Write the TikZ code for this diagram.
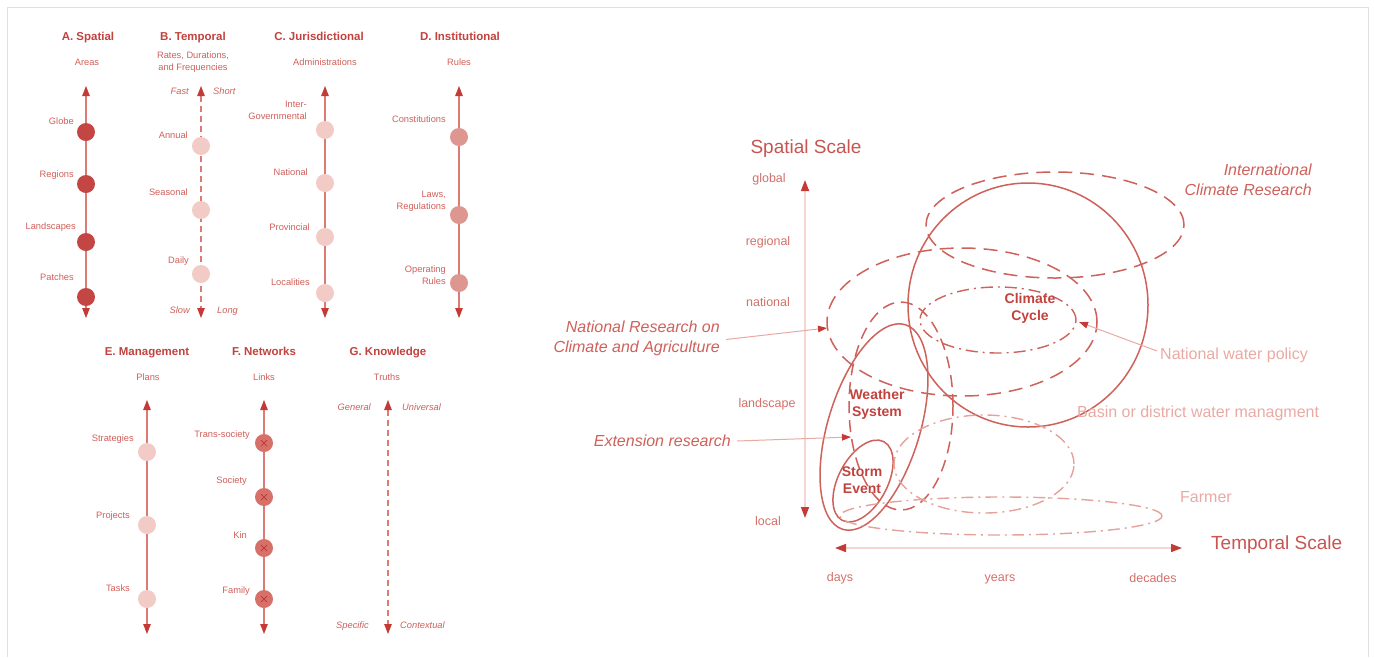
\documentclass[tikz,border=0pt]{standalone}
\usepackage{fontspec}
\setmainfont{Liberation Sans}
\usetikzlibrary{arrows.meta}
\definecolor{tred}{RGB}{194,66,62}
\definecolor{lred}{RGB}{208,96,90}
\definecolor{axl}{RGB}{220,122,116}
\definecolor{tipc}{RGB}{196,58,54}
\definecolor{pinkA}{RGB}{196,70,68}
\definecolor{pinkL}{RGB}{243,203,198}
\definecolor{pinkM}{RGB}{222,150,145}
\definecolor{pinkN}{RGB}{216,112,106}
\definecolor{xdark}{RGB}{186,54,50}
\definecolor{ltxt}{RGB}{234,170,164}
\definecolor{faint}{RGB}{246,214,210}
\definecolor{framec}{RGB}{224,224,224}
\definecolor{ellc}{RGB}{206,98,90}
\definecolor{ellL}{RGB}{230,162,154}
\definecolor{scl}{RGB}{212,112,106}
\begin{document}
\begin{tikzpicture}[x=1pt,y=-1pt,
  ttl/.style={font=\fontsize{11.5}{13}\selectfont\bfseries, text=tred, inner sep=0, text height=8.2pt, text depth=0pt},
  sub/.style={font=\fontsize{9.3}{12}\selectfont, text=lred, inner sep=0, align=center},
  subone/.style={font=\fontsize{9.3}{12}\selectfont, text=lred, inner sep=0, text height=6.7pt, text depth=0pt},
  lbl/.style={font=\fontsize{9.3}{12}\selectfont, text=lred, inner sep=0, anchor=east, text height=6.7pt, text depth=0pt},
  lbltwo/.style={font=\fontsize{9.3}{12}\selectfont, text=lred, inner sep=0, anchor=east, align=right},
  itl/.style={font=\fontsize{9.3}{12}\selectfont\itshape, text=lred, inner sep=0, text height=6.7pt, text depth=0pt},
  axisarrow/.style={draw=axl, line width=1.2pt, {Triangle[length=10pt,width=7.5pt,color=tipc]}-{Triangle[length=10pt,width=7.5pt,color=tipc]}},
  dashaxis/.style={axisarrow, dash pattern=on 6pt off 4pt},
  dotbase/.style={circle, minimum size=18pt, inner sep=0, draw=none},
  dotA/.style={dotbase, fill=pinkA},
  dotL/.style={dotbase, fill=pinkL},
  dotM/.style={dotbase, fill=pinkM},
  dotN/.style={dotbase, fill=pinkN, path picture={
     \draw[xdark, line width=0.7pt]
       ([shift={(-3pt,-3pt)}]path picture bounding box.center) -- ([shift={(3pt,3pt)}]path picture bounding box.center)
       ([shift={(-3pt,3pt)}]path picture bounding box.center) -- ([shift={(3pt,-3pt)}]path picture bounding box.center);}},
  scalearrow/.style={draw=faint, line width=1.6pt, {Triangle[length=11pt,width=8pt,color=tipc]}-{Triangle[length=11pt,width=8pt,color=tipc]}},
  scaletitle/.style={font=\fontsize{19}{22}\selectfont, text=tred!90!white, inner sep=0, text height=13.6pt, text depth=0pt},
  scalelbl/.style={font=\fontsize{12.5}{14}\selectfont, text=scl, inner sep=0, text height=9pt, text depth=0pt},
  bigit/.style={font=\fontsize{16}{20}\selectfont\itshape, text=lred, inner sep=0, align=right},
  bigitone/.style={font=\fontsize{16}{20}\selectfont\itshape, text=lred, inner sep=0, text height=11.5pt, text depth=0pt},
  lighttxt/.style={font=\fontsize{16}{20}\selectfont, text=ltxt, inner sep=0, text height=11.5pt, text depth=0pt},
  elllbl/.style={font=\fontsize{14}{17}\selectfont\bfseries, text=tred, inner sep=0, align=center},
  solidell/.style={draw=ellc, line width=1.5pt},
  dashell/.style={draw=ellc, line width=1.5pt, dash pattern=on 14pt off 8pt},
  dashellb/.style={draw=ellc, line width=1.5pt, dash pattern=on 12pt off 7pt},
  ddell/.style={draw=ellc, line width=1.4pt, dash pattern=on 12pt off 5pt on 2pt off 5pt},
  ddellL/.style={draw=ellL, line width=1.4pt, dash pattern=on 12pt off 5pt on 2pt off 5pt},
  labelarrow/.style={draw=ltxt, line width=1pt, -{Triangle[length=9pt,width=6.5pt,color=tipc]}}
]
\useasboundingbox (0,0) rectangle (1374,657);
\fill[white] (0,0) rectangle (1374,657);
\draw[framec, line width=1pt] (7.5,657) -- (7.5,7.5) -- (1368,7.5) -- (1368,657);

% ---------- A. Spatial
\node[ttl] (At) at (88,36) {A. Spatial};
\node[subone] (As) at (87,62) {Areas};
\coordinate (Atop) at (86,86); \coordinate (Abot) at (86,318);
\draw[axisarrow] (Atop) -- (Abot);
\node[dotA] (A1) at (86,132) {};
\node[dotA] (A2) at (86,184) {};
\node[dotA] (A3) at (86,242) {};
\node[dotA] (A4) at (86,297) {};
\node[lbl] (A1l) at (74,121) {Globe};
\node[lbl] (A2l) at (74,174) {Regions};
\node[lbl] (A3l) at (76,226) {Landscapes};
\node[lbl] (A4l) at (74,277) {Patches};

% ---------- B. Temporal
\node[ttl] (Bt) at (193,36) {B. Temporal};
\node[sub] (Bs) at (193,62.5) {Rates, Durations,\\and Frequencies};
\coordinate (Btop) at (201,86); \coordinate (Bbot) at (201,318);
\draw[dashaxis] (Btop) -- (Bbot);
\node[dotL] (B1) at (201,146) {};
\node[dotL] (B2) at (201,210) {};
\node[dotL] (B3) at (201,274) {};
\node[lbl] (B1l) at (188,135) {Annual};
\node[lbl] (B2l) at (188,192) {Seasonal};
\node[lbl] (B3l) at (189,260) {Daily};
\node[itl, anchor=east] (Bf) at (189,91) {Fast};
\node[itl, anchor=west] (Bsh) at (213,91) {Short};
\node[itl, anchor=east] (Bsl) at (190,310) {Slow};
\node[itl, anchor=west] (Blo) at (217,310) {Long};

% ---------- C. Jurisdictional
\node[ttl] (Ct) at (319,36) {C. Jurisdictional};
\node[subone] (Cs) at (325,62) {Administrations};
\coordinate (Ctop) at (325,86); \coordinate (Cbot) at (325,318);
\draw[axisarrow] (Ctop) -- (Cbot);
\node[dotL] (C1) at (325,130) {};
\node[dotL] (C2) at (325,183) {};
\node[dotL] (C3) at (325,237) {};
\node[dotL] (C4) at (325,293) {};
\node[lbltwo] (C1l) at (307,110.5) {Inter-\\Governmental};
\node[lbl] (C2l) at (308,172) {National};
\node[lbl] (C3l) at (310,227) {Provincial};
\node[lbl] (C4l) at (310,282) {Localities};

% ---------- D. Institutional
\node[ttl] (Dt) at (460,36) {D. Institutional};
\node[subone] (Ds) at (459,62) {Rules};
\coordinate (Dtop) at (459,86); \coordinate (Dbot) at (459,318);
\draw[axisarrow] (Dtop) -- (Dbot);
\node[dotM] (D1) at (459,137) {};
\node[dotM] (D2) at (459,215) {};
\node[dotM] (D3) at (459,283) {};
\node[lbl] (D1l) at (446,119) {Constitutions};
\node[lbltwo] (D2l) at (446,201.5) {Laws,\\Regulations};
\node[lbltwo] (D3l) at (446,275.5) {Operating\\Rules};

% ---------- E. Management
\node[ttl] (Et) at (147,351) {E. Management};
\node[subone] (Es) at (148,377) {Plans};
\coordinate (Etop) at (147,400); \coordinate (Ebot) at (147,634);
\draw[axisarrow] (Etop) -- (Ebot);
\node[dotL] (E1) at (147,452) {};
\node[dotL] (E2) at (147,525) {};
\node[dotL] (E3) at (147,599) {};
\node[lbl] (E1l) at (134,438) {Strategies};
\node[lbl] (E2l) at (130,515) {Projects};
\node[lbl] (E3l) at (130,588) {Tasks};

% ---------- F. Networks
\node[ttl] (Ft) at (264,351) {F. Networks};
\node[subone] (Fs) at (264,377) {Links};
\coordinate (Ftop) at (264,400); \coordinate (Fbot) at (264,634);
\draw[axisarrow] (Ftop) -- (Fbot);
\node[dotN] (F1) at (264,443) {};
\node[dotN] (F2) at (264,497) {};
\node[dotN] (F3) at (264,548) {};
\node[dotN] (F4) at (264,599) {};
\node[lbl] (F1l) at (250,434) {Trans-society};
\node[lbl] (F2l) at (247,480) {Society};
\node[lbl] (F3l) at (247,535) {Kin};
\node[lbl] (F4l) at (250,590) {Family};

% ---------- G. Knowledge
\node[ttl] (Gt) at (388,351) {G. Knowledge};
\node[subone] (Gs) at (387,377) {Truths};
\coordinate (Gtop) at (388,400); \coordinate (Gbot) at (388,634);
\draw[dashaxis] (Gtop) -- (Gbot);
\node[itl, anchor=east] (Gg) at (371,407) {General};
\node[itl, anchor=west] (Gu) at (402,407) {Universal};
\node[itl, anchor=east] (Gsp) at (369,625) {Specific};
\node[itl, anchor=west] (Gc) at (400,625) {Contextual};

% ================= Right panel
\coordinate (Vt) at (805,180); \coordinate (Vb) at (805,518);
\draw[scalearrow] (Vt) -- (Vb);
\coordinate (Hl) at (835,548); \coordinate (Hr) at (1182,548);
\draw[scalearrow] (Hl) -- (Hr);

\node[scaletitle] (SS) at (806,147) {Spatial Scale};
\node[scaletitle, anchor=west] (TS) at (1211,543) {Temporal Scale};
\node[scalelbl] (sg) at (769,177.5) {global};
\node[scalelbl] (sr) at (768,241) {regional};
\node[scalelbl] (sn) at (768,302) {national};
\node[scalelbl] (sl) at (767,403) {landscape};
\node[scalelbl] (sc) at (768,521) {local};
\node[scalelbl] (td) at (840,577) {days};
\node[scalelbl] (ty) at (1000,577) {years};
\node[scalelbl] (tc) at (1153,578) {decades};

% ellipses
\draw[dashell] (1055,225) ellipse [x radius=129pt, y radius=53pt];
\draw[solidell] (1028,305) ellipse [x radius=120pt, y radius=122pt];
\draw[dashell] (962,322) ellipse [x radius=135pt, y radius=74pt];
\draw[ddell] (998,320) ellipse [x radius=78pt, y radius=33pt];
\draw[dashellb] (901,406) ellipse [x radius=52pt, y radius=104pt];
\draw[solidell, rotate around={-17:(874,427)}] (874,427) ellipse [x radius=46pt, y radius=107pt];
\draw[solidell, rotate around={-28:(863,481)}] (863,481) ellipse [x radius=24.5pt, y radius=44.5pt];
\draw[ddellL] (984,464) ellipse [x radius=90pt, y radius=49pt];
\draw[ddellL] (1001,516) ellipse [x radius=161pt, y radius=19pt];

% ellipse labels
\node[elllbl] (CC) at (1030,308.5) {Climate\\Cycle};
\node[elllbl] (WS) at (877,404.5) {Weather\\System};
\node[elllbl] (SE) at (862,480.5) {Storm\\Event};

% outside labels
\node[bigit, anchor=east] (ICR) at (1312,180) {International\\Climate Research};
\node[bigit, anchor=east] (NRCA) at (720,338.5) {National Research on\\Climate and Agriculture};
\node[bigitone, anchor=east] (EXT) at (731,441) {Extension research};
\node[lighttxt, anchor=west] (NWP) at (1160,354) {National water policy};
\node[lighttxt, anchor=west] (BAS) at (1077,412) {Basin or district water managment};
\node[lighttxt, anchor=west] (FAR) at (1180,497) {Farmer};

\coordinate (NRCAtip) at (827,328);
\coordinate (EXTtip) at (851,437);
\coordinate (NWPtip) at (1079,322);
\draw[labelarrow] ([xshift=6pt,yshift=-1pt]NRCA.east) -- (NRCAtip);
\draw[labelarrow] ([xshift=6pt]EXT.east) -- (EXTtip);
\draw[labelarrow] ([xshift=-3pt,yshift=3pt]NWP.west) -- (NWPtip);
\end{tikzpicture}
\end{document}
